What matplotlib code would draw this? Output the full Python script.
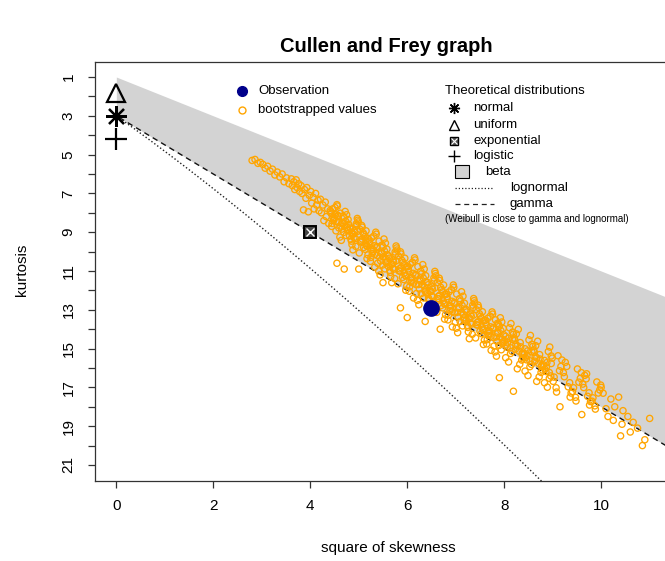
import matplotlib
matplotlib.use("Agg")
import matplotlib.pyplot as plt
import numpy as np
from matplotlib.lines import Line2D
from matplotlib.patches import Rectangle

plt.rcParams['font.family'] = ['Liberation Sans', 'DejaVu Sans']

# ---------------- data ----------------
obs_s2 = [6.5]
obs_kurt = [12.9]

theo_names = ["normal", "uniform", "exponential", "logistic"]
theo_s2 = [0.0, 0.0, 4.0, 0.0]
theo_kurt = [3.0, 1.8, 9.0, 4.2]

x_ticks = [0, 2, 4, 6, 8, 10]
y_ticks_labelled = [1, 3, 5, 7, 9, 11, 13, 15, 17, 19, 21]

# bootstrapped (square of skewness, kurtosis) values
boot_s2 = [
    2.80, 2.86, 2.92, 2.97, 3.02, 3.07, 3.12, 3.17,
    3.22, 3.27, 3.32, 3.37, 3.42, 3.46, 3.51, 3.56,
    3.61, 3.63, 3.66, 3.68, 3.71, 3.73, 3.76, 3.78,
    3.81, 3.83, 3.86, 3.88, 3.91, 3.93, 3.96, 3.98,
    4.01, 4.03, 4.06, 4.08, 4.11, 4.13, 4.16, 4.18,
    4.21, 4.23, 4.26, 4.28, 4.31, 4.33, 4.36, 4.38,
    4.55, 4.48, 4.42, 4.59, 4.51, 4.45, 4.57, 4.53, 4.41, 4.49, 4.56, 4.44, 4.52, 4.58, 4.46, 4.50,
    4.72, 4.65, 4.78, 4.61, 4.75, 4.69, 4.79, 4.64, 4.70, 4.76, 4.62, 4.74, 4.66, 4.77, 4.68, 4.71,
    4.97, 4.90, 4.82, 4.94, 4.99, 4.85, 4.92, 4.88, 4.96, 4.81, 4.98, 4.86, 4.91, 4.84, 4.95, 4.89,
    5.06, 5.16, 5.11, 5.19, 5.02, 5.13, 5.04, 5.17, 5.09, 5.14, 5.07, 5.01, 5.18, 5.10, 5.15, 5.05,
    5.35, 5.28, 5.22, 5.39, 5.31, 5.25, 5.37, 5.33, 5.21, 5.29, 5.36, 5.24, 5.32, 5.38, 5.26, 5.30,
    5.52, 5.45, 5.58, 5.41, 5.55, 5.49, 5.59, 5.44, 5.50, 5.56, 5.42, 5.54, 5.46, 5.57, 5.48, 5.51,
    5.77, 5.70, 5.62, 5.74, 5.79, 5.65, 5.72, 5.68, 5.76, 5.61, 5.78, 5.66, 5.71, 5.64, 5.75, 5.69,
    5.86, 5.96, 5.91, 5.99, 5.82, 5.93, 5.84, 5.97, 5.89, 5.94, 5.87, 5.81, 5.98, 5.90, 5.95, 5.85,
    6.15, 6.08, 6.02, 6.19, 6.11, 6.05, 6.17, 6.13, 6.01, 6.09, 6.16, 6.04, 6.12, 6.18, 6.06, 6.10,
    6.32, 6.25, 6.38, 6.21, 6.35, 6.29, 6.39, 6.24, 6.30, 6.36, 6.22, 6.34, 6.26, 6.37, 6.28, 6.31,
    6.57, 6.50, 6.42, 6.54, 6.59, 6.45, 6.52, 6.48, 6.56, 6.41, 6.58, 6.46, 6.51, 6.44, 6.55, 6.49,
    6.66, 6.76, 6.71, 6.79, 6.62, 6.73, 6.64, 6.77, 6.69, 6.74, 6.67, 6.61, 6.78, 6.70, 6.75, 6.65,
    6.95, 6.88, 6.82, 6.99, 6.91, 6.85, 6.97, 6.93, 6.81, 6.89, 6.96, 6.84, 6.92, 6.98, 6.86, 6.90,
    7.12, 7.05, 7.18, 7.01, 7.15, 7.09, 7.19, 7.04, 7.10, 7.16, 7.02, 7.14, 7.06, 7.17, 7.08, 7.11,
    7.37, 7.30, 7.22, 7.34, 7.39, 7.25, 7.32, 7.28, 7.36, 7.21, 7.38, 7.26, 7.31, 7.24, 7.35, 7.29,
    7.46, 7.56, 7.51, 7.59, 7.42, 7.53, 7.44, 7.57, 7.49, 7.54, 7.47, 7.41, 7.58, 7.50, 7.55, 7.45,
    7.75, 7.68, 7.62, 7.79, 7.71, 7.65, 7.77, 7.73, 7.61, 7.69, 7.76, 7.64, 7.72, 7.78, 7.66, 7.70,
    7.92, 7.85, 7.98, 7.81, 7.95, 7.89, 7.99, 7.84, 7.90, 7.96, 7.82, 7.94, 7.86, 7.97, 7.88, 7.91,
    8.14, 8.06, 8.19, 8.03, 8.11, 8.16, 8.01, 8.09, 8.17, 8.04, 8.13, 8.08,
    8.29, 8.37, 8.22, 8.32, 8.25, 8.39, 8.34, 8.27, 8.21, 8.31, 8.36, 8.24,
    8.54, 8.46, 8.59, 8.43, 8.51, 8.56, 8.41, 8.49, 8.57, 8.44, 8.53, 8.48,
    8.69, 8.77, 8.62, 8.72, 8.65, 8.79, 8.74, 8.67, 8.61, 8.71, 8.76, 8.64,
    8.94, 8.86, 8.99, 8.83, 8.91, 8.96, 8.81, 8.89, 8.97, 8.84, 8.93, 8.88,
    9.11, 9.03, 9.17, 9.07, 9.19, 9.01, 9.14, 9.08,
    9.26, 9.35, 9.22, 9.38, 9.29, 9.32, 9.24, 9.36,
    9.51, 9.43, 9.57, 9.47, 9.59, 9.41, 9.54, 9.48,
    9.66, 9.75, 9.62, 9.78, 9.69, 9.72, 9.64, 9.76,
    9.91, 9.83, 9.97, 9.87, 9.99, 9.81, 9.94, 9.88,
    10.04, 10.10, 10.14, 10.20, 10.28, 10.36, 10.43, 10.40, 10.45, 10.55, 10.60, 10.66, 10.75, 10.85, 10.90, 11.00, 10.00, 10.25,
    4.55, 4.70, 5.86, 6.00, 6.37, 6.68, 7.90, 8.19, 9.15, 9.60, 7.86, 9.70, 5.00, 5.50,
    4.43, 4.47, 4.53, 4.57, 4.73, 4.63, 4.77, 4.67, 4.83, 4.87, 4.93, 4.97, 5.13, 5.03, 5.17, 5.07,
    5.23, 5.27, 5.33, 5.37, 5.53, 5.43, 5.57, 5.47, 5.63, 5.67, 5.73, 5.77, 5.93, 5.83, 5.97, 5.87,
    6.03, 6.07, 6.13, 6.17, 6.33, 6.23, 6.37, 6.27, 6.43, 6.47, 6.53, 6.57, 6.73, 6.63, 6.77, 6.67,
    6.83, 6.87, 6.93, 6.97, 7.13, 7.03, 7.17, 7.07, 7.23, 7.27, 7.33, 7.37, 7.53, 7.43, 7.57, 7.47,
    7.63, 7.67, 7.73, 7.77, 7.93, 7.83, 7.97, 7.87, 8.03, 8.07, 8.13, 8.17, 8.33, 8.23, 8.37, 8.27,
    8.43, 8.47, 8.53, 8.57, 8.73, 8.63, 8.77, 8.67, 8.83, 8.87, 8.93, 8.97,
]
boot_kurt = [
    5.30, 5.25, 5.45, 5.40, 5.50, 5.70, 5.60, 5.85,
    5.75, 6.05, 5.90, 6.15, 6.00, 6.40, 6.20, 6.50,
    6.25, 6.60, 6.40, 6.80, 6.30, 6.70, 6.50, 6.90,
    6.60, 7.00, 7.85, 6.80, 7.25, 6.70, 7.95, 7.10,
    6.90, 7.50, 7.20, 7.80, 7.00, 7.60, 7.35, 7.90,
    7.30, 8.00, 7.60, 8.40, 7.45, 8.20, 7.80, 8.55,
    7.58, 8.40, 7.95, 8.78, 7.73, 8.55, 8.18, 8.93, 7.88, 8.33, 7.65, 8.70, 8.10, 8.48, 7.80, 8.25,
    7.93, 8.84, 8.35, 9.25, 8.10, 9.01, 8.59, 9.42, 8.26, 8.76, 8.02, 9.17, 8.51, 8.92, 8.18, 8.68,
    8.29, 9.28, 8.74, 9.73, 8.47, 9.46, 9.01, 9.91, 8.65, 9.19, 8.38, 9.64, 8.92, 9.37, 8.56, 9.10,
    8.65, 9.69, 9.12, 10.17, 8.84, 9.88, 9.41, 10.36, 9.03, 9.60, 8.74, 10.07, 9.31, 9.79, 8.93, 9.50,
    9.00, 10.10, 9.50, 10.60, 9.20, 10.30, 9.80, 10.80, 9.40, 10.00, 9.10, 10.50, 9.70, 10.20, 9.30, 9.90,
    9.35, 10.48, 9.87, 11.00, 9.56, 10.69, 10.17, 11.20, 9.76, 10.38, 9.46, 10.89, 10.07, 10.58, 9.66, 10.28,
    9.71, 10.86, 10.23, 11.39, 9.92, 11.07, 10.55, 11.60, 10.13, 10.76, 9.81, 11.28, 10.44, 10.97, 10.02, 10.65,
    10.01, 11.22, 10.56, 11.77, 10.23, 11.44, 10.89, 11.99, 10.45, 11.11, 10.12, 11.66, 10.78, 11.33, 10.34, 11.00,
    10.32, 11.58, 10.89, 12.16, 10.55, 11.81, 11.24, 12.39, 10.78, 11.47, 10.43, 12.04, 11.12, 11.70, 10.66, 11.35,
    10.67, 11.93, 11.24, 12.51, 10.90, 12.16, 11.59, 12.74, 11.13, 11.82, 10.78, 12.39, 11.47, 12.05, 11.01, 11.70,
    11.02, 12.28, 11.59, 12.86, 11.25, 12.51, 11.94, 13.09, 11.48, 12.17, 11.13, 12.74, 11.82, 12.40, 11.36, 12.05,
    11.37, 12.66, 11.96, 13.25, 11.60, 12.90, 12.31, 13.48, 11.84, 12.54, 11.49, 13.13, 12.19, 12.78, 11.72, 12.43,
    11.72, 13.04, 12.32, 13.64, 11.96, 13.28, 12.68, 13.88, 12.20, 12.92, 11.84, 13.52, 12.56, 13.16, 12.08, 12.80,
    12.07, 13.36, 12.66, 13.95, 12.30, 13.60, 13.01, 14.18, 12.54, 13.24, 12.19, 13.83, 12.89, 13.48, 12.42, 13.13,
    12.42, 13.68, 12.99, 14.26, 12.65, 13.91, 13.34, 14.49, 12.88, 13.57, 12.53, 14.14, 13.22, 13.80, 12.76, 13.45,
    12.76, 14.00, 13.33, 14.56, 12.99, 14.23, 13.66, 14.79, 13.21, 13.89, 12.88, 14.45, 13.55, 14.11, 13.10, 13.78,
    13.11, 14.32, 13.66, 14.87, 13.33, 14.54, 13.99, 15.09, 13.55, 14.21, 13.22, 14.76, 13.88, 14.43, 13.44, 14.10,
    13.41, 14.62, 13.96, 15.17, 13.63, 14.84, 14.29, 15.39, 13.85, 14.51, 13.52, 15.06, 14.18, 14.73, 13.74, 14.40,
    13.71, 14.92, 14.26, 15.47, 13.93, 15.14, 14.59, 15.69, 14.15, 14.81, 15.25, 14.48,
    14.01, 15.25, 14.58, 15.81, 14.24, 15.48, 14.91, 16.04, 14.46, 15.14, 15.59, 14.80,
    14.32, 15.58, 14.89, 16.16, 14.55, 15.81, 15.24, 16.39, 14.78, 15.47, 15.93, 15.12,
    14.62, 15.88, 15.19, 16.46, 14.85, 16.11, 15.54, 16.69, 15.08, 15.77, 16.23, 15.42,
    14.92, 16.18, 15.49, 16.76, 15.15, 16.41, 15.84, 16.99, 15.38, 16.07, 16.53, 15.72,
    15.37, 16.47, 15.92, 17.02, 15.59, 16.69, 16.14, 17.24,
    15.71, 16.76, 16.24, 17.29, 15.92, 16.97, 16.45, 17.50,
    16.05, 17.02, 16.53, 17.51, 16.24, 17.22, 16.73, 17.70,
    16.38, 17.28, 16.83, 17.73, 16.56, 17.46, 17.01, 17.91,
    16.72, 17.54, 17.13, 17.95, 16.88, 17.71, 17.29, 18.12,
    17.30, 18.10, 18.50, 17.60, 18.00, 17.50, 18.90, 19.50, 18.20, 18.50, 19.30, 18.80, 19.10, 20.00, 19.70, 18.60, 17.00, 18.70,
    10.60, 10.90, 12.90, 13.40, 13.60, 14.00, 16.50, 17.20, 18.00, 18.40, 13.70, 16.30, 10.90, 11.60,
    8.03, 8.25, 8.43, 8.13, 8.43, 8.68, 8.87, 8.54, 8.83, 9.10, 9.32, 8.96, 9.22, 9.50, 9.73, 9.35,
    9.60, 9.90, 10.14, 9.74, 9.97, 10.28, 10.52, 10.11, 10.34, 10.65, 10.90, 10.48, 10.67, 11.00, 11.26, 10.82,
    11.01, 11.35, 11.63, 11.17, 11.36, 11.70, 11.98, 11.52, 11.71, 12.05, 12.33, 11.87, 12.07, 12.43, 12.71, 12.24,
    12.44, 12.80, 13.09, 12.61, 12.77, 13.13, 13.41, 12.94, 13.11, 13.45, 13.73, 13.27, 13.44, 13.78, 14.05, 13.60,
    13.77, 14.10, 14.36, 13.92, 14.07, 14.40, 14.66, 14.22, 14.37, 14.70, 14.96, 14.52, 14.69, 15.03, 15.30, 14.85,
    15.01, 15.35, 15.63, 15.17, 15.31, 15.65, 15.93, 15.47, 15.61, 15.95, 16.23, 15.77,
]

# ---------------- figure ----------------
W, H = 665, 561
fig = plt.figure(figsize=(W / 100, H / 100), dpi=100)
ax_left, ax_right, ax_top, ax_bot = 95, 671, 61.5, 480.5
ax = fig.add_axes([ax_left / W, (H - ax_bot) / H, (ax_right - ax_left) / W, (ax_bot - ax_top) / H])
ax.set_xlim(-0.44, 11.44)
ax.set_ylim(21.8, 0.2)

# beta region (theoretical): between kurt = s2 + 1 and gamma line kurt = 3 + 1.5 s2
xs = np.linspace(0, 12.5, 300)
ax.fill_between(xs, xs + 1, 3 + 1.5 * xs, color='#D3D3D3', lw=0, zorder=1)

# gamma line (theoretical)
shape = np.exp(np.linspace(-5, 10, 400))
ax.plot(4 / shape, 3 + 6 / shape, color='#111111', lw=1.0, ls=(0, (4, 3)), zorder=2)

# lognormal line (theoretical)
sig = np.linspace(0.0, 1.2, 400)
es2 = np.exp(sig ** 2)
ax.plot((es2 + 2) ** 2 * (es2 - 1), es2 ** 4 + 2 * es2 ** 3 + 3 * es2 ** 2 - 3,
        color='#222222', lw=1.0, ls=(0, (1, 1.6)), zorder=2)

# bootstrapped values
ax.scatter(boot_s2, boot_kurt, s=20, facecolors='none', edgecolors='#FFA500', linewidths=0.95, zorder=3)

# observation
ax.plot(obs_s2, obs_kurt, 'o', color='#00008B', ms=11, zorder=5)

# theoretical points
styles = {
    "normal": dict(marker=(8, 2, 0), ms=15, mew=1.6),
    "uniform": dict(marker='^', ms=13, mew=1.6, mfc='none'),
    "logistic": dict(marker='+', ms=16, mew=1.6),
}
for n, sx, ky in zip(theo_names, theo_s2, theo_kurt):
    if n == "exponential":
        ax.plot([sx], [ky], 's', ms=9, mfc='#444444', mec='black', mew=1.4, zorder=6)
        ax.plot([sx], [ky], 'x', ms=5.5, mec='white', mew=1.0, zorder=7)
    else:
        st = styles[n]
        ax.plot([sx], [ky], ls='none', color='black', zorder=6, **st)

# axes styling
ax.set_xticks(x_ticks)
ax.set_xticklabels([str(v) for v in x_ticks])
ax.set_yticks(y_ticks_labelled)
ax.set_yticklabels([str(v) for v in y_ticks_labelled], rotation=90, va='center', ha='center')
ax.set_yticks([v + 1 for v in y_ticks_labelled[:-1]], minor=True)
ax.tick_params(axis='x', which='both', direction='out', length=5, width=0.9, labelsize=11, pad=8, color='#333333')
ax.tick_params(axis='y', which='both', direction='out', length=5, width=0.9, labelsize=11, pad=14, color='#333333')
for sp in ax.spines.values():
    sp.set_color('#333333')
    sp.set_linewidth(0.9)

# texts in pixel coordinates
def fx(x):
    return x / W
def fy(y):
    return 1 - y / H

fig.text(fx(386), fy(47), "Cullen and Frey graph", ha='center', va='center', fontsize=14.5, fontweight='bold')
fig.text(fx(388), fy(548), "square of skewness", ha='center', va='center', fontsize=11)
fig.text(fx(22), fy(270), "kurtosis", ha='center', va='center', fontsize=11, rotation=90)

# legend 1
fig.add_artist(Line2D([fx(242)], [fy(91)], marker='o', ms=7, color='#00008B', ls='none'))
fig.add_artist(Line2D([fx(242)], [fy(110)], marker='o', ms=5, mfc='none', mec='#FFA500', mew=1.0, ls='none'))
fig.text(fx(258), fy(91), "Observation", ha='left', va='center', fontsize=9.5)
fig.text(fx(258), fy(110), "bootstrapped values", ha='left', va='center', fontsize=9.5)

# legend 2
fig.text(fx(445), fy(91), "Theoretical distributions", ha='left', va='center', fontsize=9.5)
lx = 454
fig.add_artist(Line2D([fx(lx)], [fy(108)], marker=(8, 2, 0), ms=8, mew=1.0, color='black', ls='none'))
fig.add_artist(Line2D([fx(lx)], [fy(125)], marker='^', ms=7, mew=1.0, mfc='none', color='black', ls='none'))
fig.add_artist(Line2D([fx(lx)], [fy(141)], marker='s', ms=6, mew=1.0, mfc='#555555', mec='black', ls='none'))
fig.add_artist(Line2D([fx(lx)], [fy(141)], marker='x', ms=4, mew=0.8, color='white', ls='none'))
fig.add_artist(Line2D([fx(lx)], [fy(156)], marker='+', ms=9, mew=1.0, color='black', ls='none'))
fig.text(fx(473), fy(108), "normal", ha='left', va='center', fontsize=9.5)
fig.text(fx(473), fy(125), "uniform", ha='left', va='center', fontsize=9.5)
fig.text(fx(473), fy(141), "exponential", ha='left', va='center', fontsize=9.5)
fig.text(fx(473), fy(156), "logistic", ha='left', va='center', fontsize=9.5)
fig.add_artist(Rectangle((fx(455), fy(178)), 14 / W, 13 / H, transform=fig.transFigure,
                         facecolor='#D3D3D3', edgecolor='black', lw=0.8))
fig.text(fx(485), fy(172), "beta", ha='left', va='center', fontsize=9.5)
fig.add_artist(Line2D([fx(455), fx(494)], [fy(188), fy(188)], color='#222222', lw=0.9, ls=(0, (1, 1.6))))
fig.add_artist(Line2D([fx(455), fx(494)], [fy(204), fy(204)], color='#222222', lw=0.9, ls=(0, (4, 3))))
fig.text(fx(510), fy(188), "lognormal", ha='left', va='center', fontsize=9.5)
fig.text(fx(510), fy(204), "gamma", ha='left', va='center', fontsize=9.5)
fig.text(fx(445), fy(219), "(Weibull is close to gamma and lognormal)", ha='left', va='center', fontsize=7)

fig.savefig("out.png", dpi=100)
